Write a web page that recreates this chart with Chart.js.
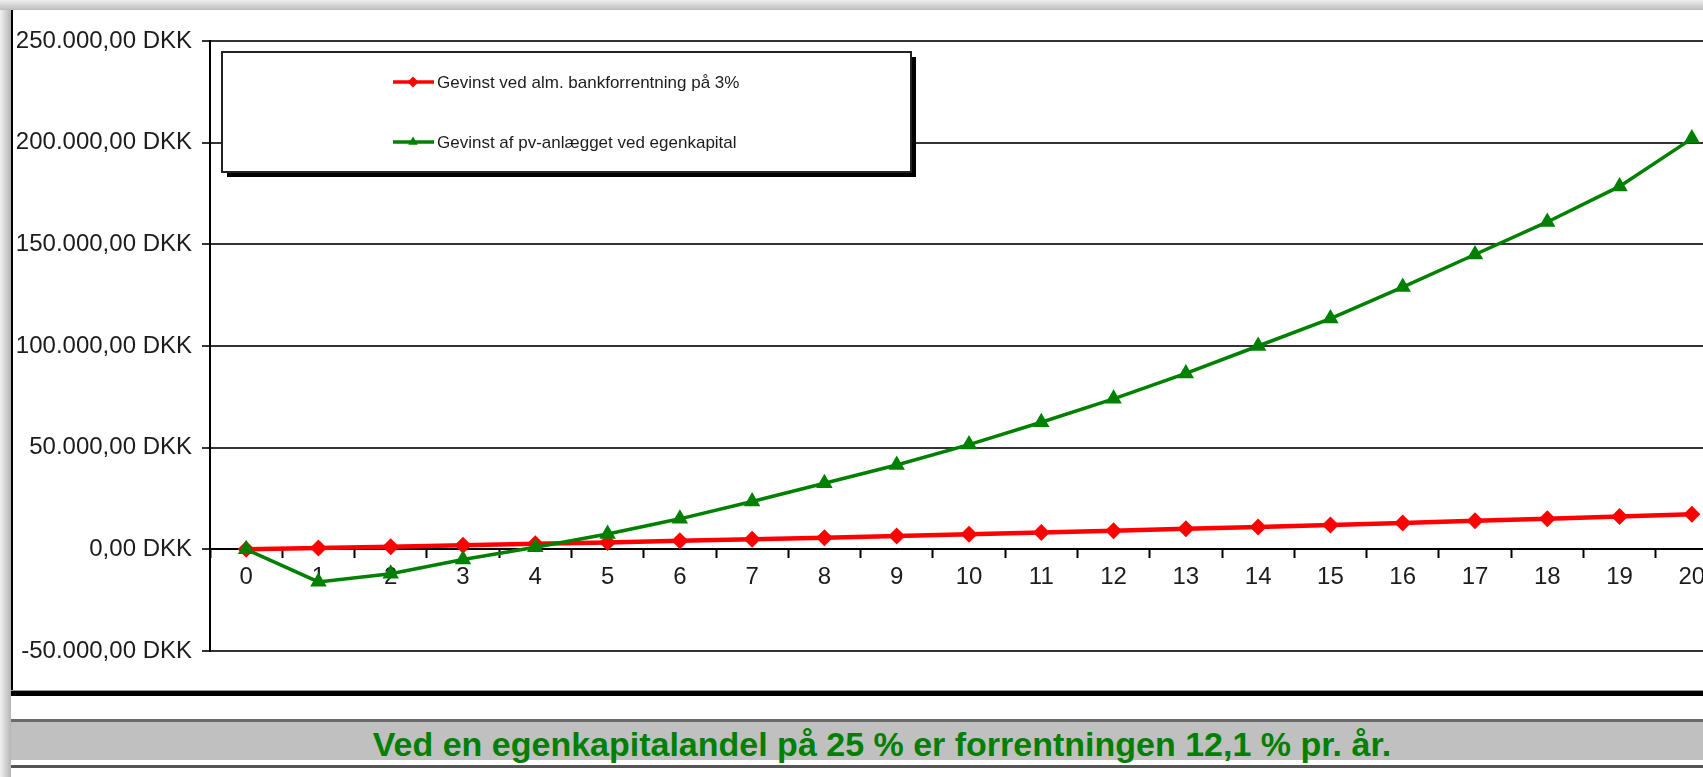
<!DOCTYPE html>
<html>
<head>
<meta charset="utf-8">
<script src="https://cdn.jsdelivr.net/npm/chart.js@4.4.1/dist/chart.umd.min.js"></script>
<style>
  html, body { margin: 0; padding: 0; width: 1703px; height: 777px; overflow: hidden; background: #fff; }
  #leftShade { position: absolute; left: 0; top: 0; width: 11px; height: 777px; background: linear-gradient(to right, #f2f2f2, #b4b4b4); }
  #topShade { position: absolute; left: 0; top: 0; width: 1703px; height: 10px; background: linear-gradient(#eeeeee, #bcbcbc); }
  #frame { position: absolute; left: 11px; top: 10px; width: 1780px; height: 680px; border-left: 2px solid #000; }
  #chartBox { position: absolute; left: 13px; top: 10px; width: 1740px; height: 680px; }
  #thick { position: absolute; left: 11px; top: 690px; width: 1780px; height: 5px; background: #000; border-top: 1px solid #999; }
  #band { position: absolute; left: 11px; top: 719px; width: 1742px; height: 38px; background: #c0c0c0; border-top: 3px solid #6a6a6a; }
  #bandLow { position: absolute; left: 11px; top: 765px; width: 1780px; height: 3px; background: #555; }
  #note { position: absolute; left: 11px; top: 725px; width: 1742px; height: 38px; line-height: 38px; text-align: center;
          font: bold 34px "Liberation Sans", Arial, sans-serif; color: #008000; }
</style>
</head>
<body>
<div id="leftShade"></div>
<div id="topShade"></div>
<div id="frame"></div>
<div id="chartBox"><canvas id="c" width="1740" height="680"></canvas></div>
<div id="thick"></div>
<div id="band"></div>
<div id="bandLow"></div>
<div id="note">Ved en egenkapitalandel på 25 % er forrentningen 12,1 % pr. år.</div>
<script>
// år 0..20
const years = ['0', '1', '2', '3', '4', '5', '6', '7', '8', '9', '10',
               '11', '12', '13', '14', '15', '16', '17', '18', '19', '20'];

const bankLabel = 'Gevinst ved alm. bankforrentning på 3%';
const bankGain = [0, 650, 1300, 2000, 2700, 3400, 4200, 4900, 5700, 6600, 7400,
                  8300, 9200, 10100, 11000, 12000, 13000, 14000, 15100, 16200, 17300];

const pvLabel = 'Gevinst af pv-anlægget ved egenkapital';
const pvGain = [0, -16000, -12000, -5000, 1000, 7500, 15000, 23500, 32500, 41500, 51500,
                62500, 74000, 86500, 100000, 113500, 129000, 145000, 161000, 178500, 202000];

const yMin = -50000;
const yMax = 250000;
const yStep = 50000;

function dkk(v) {
  const parts = Math.abs(v).toFixed(2).split('.');
  const whole = parts[0].replace(/\B(?=(\d{3})+(?!\d))/g, '.');
  return (v < 0 ? '-' : '') + whole + ',' + parts[1] + ' DKK';
}

const axisFont = { family: '"Liberation Sans", Arial, sans-serif', size: 24 };
const textColor = '#1c1c1c';

// legend box drawn inside the plot, Excel style
const boxLegend = {
  id: 'boxLegend',
  afterDraw(chart) {
    const ctx = chart.ctx;
    const a = chart.chartArea;
    const x = a.left + 12, y = a.top + 11, w = 689, h = 120;
    ctx.save();
    ctx.fillStyle = '#000';
    ctx.fillRect(x + 5, y + 5, w, h);
    ctx.fillStyle = '#fff';
    ctx.fillRect(x, y, w, h);
    ctx.strokeStyle = '#222';
    ctx.lineWidth = 2;
    ctx.strokeRect(x, y, w, h);

    const rows = [chart.data.datasets[0], chart.data.datasets[1]];
    rows.forEach((ds, i) => {
      const ly = y + 30 + i * 60;
      const lx = x + 171;
      ctx.strokeStyle = ds.borderColor;
      ctx.lineWidth = 3.5;
      ctx.beginPath();
      ctx.moveTo(lx, ly);
      ctx.lineTo(lx + 41, ly);
      ctx.stroke();
      ctx.fillStyle = ds.borderColor;
      Chart.helpers.drawPoint(ctx, { pointStyle: ds.pointStyle, radius: 5.5, rotation: 0, borderWidth: 0 }, lx + 20, ly);
      ctx.fillStyle = textColor;
      ctx.font = '17px "Liberation Sans", Arial, sans-serif';
      ctx.textBaseline = 'middle';
      ctx.fillText(ds.label, lx + 44, ly + 1);
    });
    ctx.restore();
  }
};

new Chart(document.getElementById('c').getContext('2d'), {
  type: 'line',
  data: {
    labels: years,
    datasets: [
      {
        label: bankLabel,
        data: bankGain,
        borderColor: '#ff0000',
        backgroundColor: '#ff0000',
        borderWidth: 4.5,
        pointStyle: 'rectRot',
        pointRadius: 8.5,
        pointBorderWidth: 0,
        tension: 0,
        order: 2,
      },
      {
        label: pvLabel,
        data: pvGain,
        borderColor: '#008000',
        backgroundColor: '#008000',
        borderWidth: 3.5,
        pointStyle: 'triangle',
        pointRadius: 9.5,
        pointBorderWidth: 0,
        tension: 0,
        order: 1,
      },
    ],
  },
  options: {
    responsive: false,
    animation: false,
    layout: { padding: { top: 31, bottom: 39, left: 0, right: 25 } },
    plugins: { legend: { display: false }, tooltip: { enabled: false } },
    scales: {
      x: {
        position: { y: 0 },
        offset: true,
        grid: { offset: true, drawOnChartArea: false, drawTicks: true, tickLength: 8, tickWidth: 2, tickColor: '#000' },
        border: { display: true, color: '#000', width: 2 },
        ticks: { font: axisFont, color: textColor, padding: 6, maxRotation: 0, autoSkip: false },
        afterFit(s) { s.paddingLeft = 0; s.paddingRight = 0; },
      },
      y: {
        min: yMin,
        max: yMax,
        ticks: { stepSize: yStep, callback: dkk, font: axisFont, color: textColor, padding: 10 },
        grid: { color: '#333', lineWidth: 2, tickLength: 8 },
        border: { color: '#000', width: 2 },
        afterFit(s) { s.width = 197; s.paddingTop = 0; s.paddingBottom = 0; },
      },
    },
  },
  plugins: [boxLegend],
});
</script>
</body>
</html>
